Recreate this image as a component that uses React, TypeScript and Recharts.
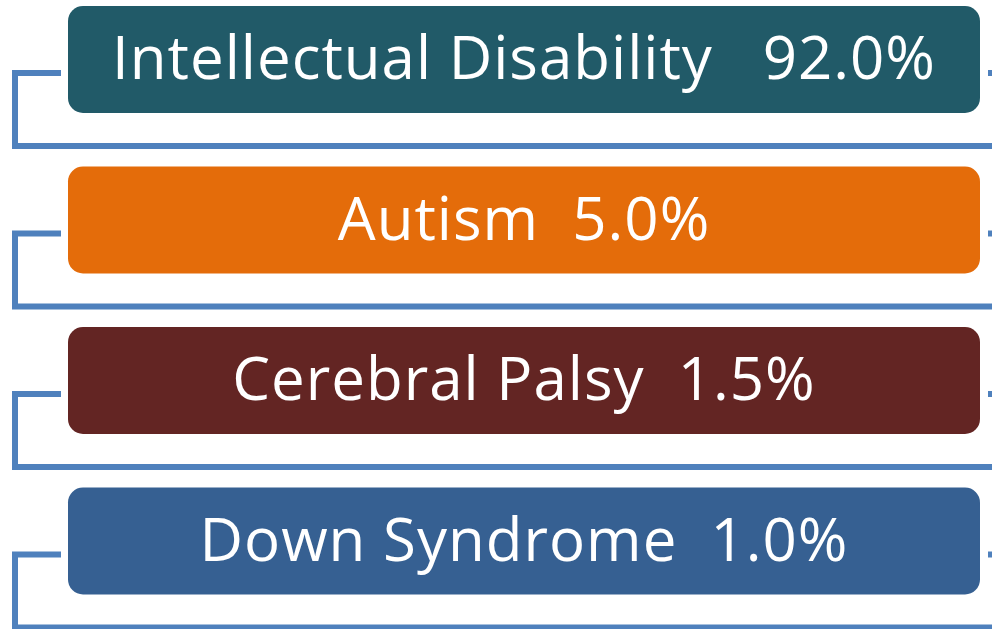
import React from "react";
import { BarChart, Bar, XAxis, YAxis } from "recharts";

const categories = ["Intellectual Disability", "Autism", "Cerebral Palsy", "Down Syndrome"];
const percents = [92.0, 5.0, 1.5, 1.0];
const separators = ["   ", "  ", "  ", "  "];
const spans = [1, 1, 1, 1];

const COLORS = ["#215A68", "#E46C0A", "#632523", "#366092"];
const LINE = "#4F81BD";
const W = 992;

const data = categories.map((name, i) => ({
  name,
  pct: percents[i],
  sep: separators[i],
  span: spans[i],
}));

const Box = (props: any) => {
  const { x, y, width, height, payload, index } = props;
  const stubY = y + 67;
  const lineY = y + 140;
  return (
    <g>
      <path
        d={`M ${x - 7} ${stubY} H ${x - 53} V ${lineY} H ${W}`}
        fill="none"
        stroke={LINE}
        strokeWidth={6}
        strokeLinejoin="miter"
      />
      <path d={`M ${x + width + 8} ${stubY} H ${W}`} stroke={LINE} strokeWidth={6} />
      <rect x={x} y={y} width={width} height={height} rx={15} ry={15} fill={COLORS[index % COLORS.length]} />
      <text
        x={x + width / 2}
        y={y + 73}
        textAnchor="middle"
        fill="#FFFFFF"
        fontFamily="'Open Sans', sans-serif"
        fontSize={60}
        letterSpacing={1}
        style={{ whiteSpace: "pre" }}
      >
        {`${payload.name}${payload.sep}${payload.pct.toFixed(1)}%`}
      </text>
    </g>
  );
};

export default function App() {
  return (
    <div style={{ position: "absolute", left: 0, top: -21, width: W, height: 650 }}>
      <style>{`body{margin:0;overflow:hidden;background:#fff}`}</style>
      <BarChart
        layout="vertical"
        width={W}
        height={650}
        data={data}
        margin={{ top: 0, right: 12, bottom: 8, left: 68 }}
        barCategoryGap={0}
      >
        <XAxis type="number" domain={[0, 1]} hide />
        <YAxis type="category" dataKey="name" hide />
        <Bar dataKey="span" barSize={107} shape={<Box />} isAnimationActive={false} />
      </BarChart>
    </div>
  );
}
